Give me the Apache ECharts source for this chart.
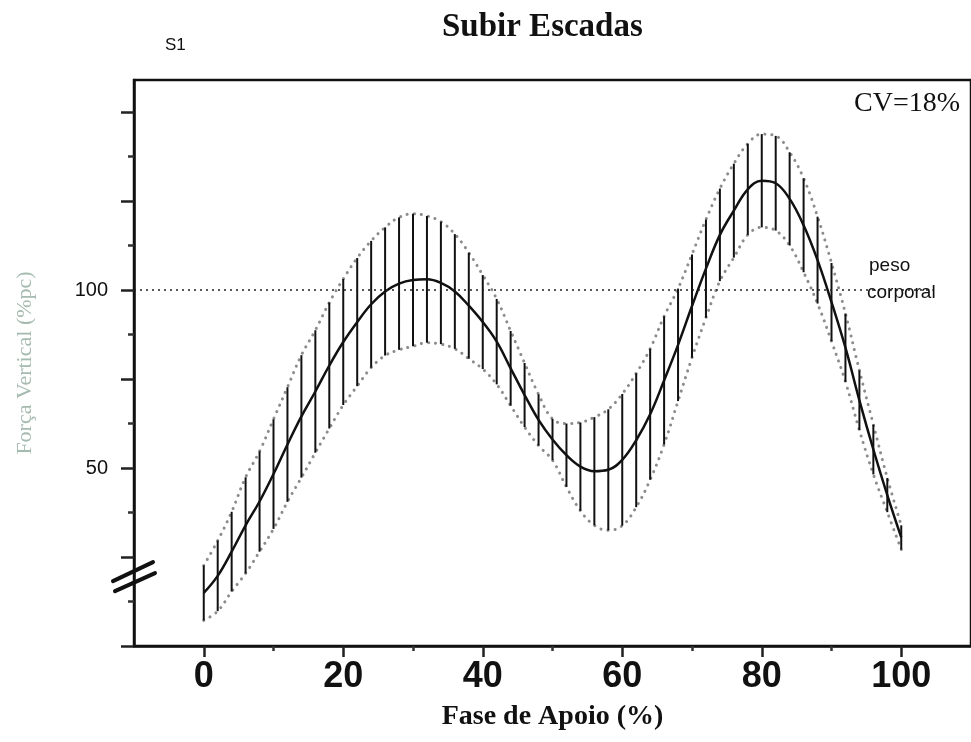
<!DOCTYPE html>
<html><head><meta charset="utf-8">
<script src="https://cdn.jsdelivr.net/npm/echarts@6/dist/echarts.min.js"></script>
<style>html,body{margin:0;padding:0;background:#fff}#c{width:971px;height:742px}</style>
</head><body><div id="c"></div>
<script>
// Stance phase (%)
const phase = [0,2,4,6,8,10,12,14,16,18,20,22,24,26,28,30,32,34,36,38,40,42,44,46,48,50,
  52,54,56,58,60,62,64,66,68,70,72,74,76,78,80,82,84,86,88,90,92,94,96,98,100];
// Mean vertical force (% body weight)
const meanForce = [14.9,19.7,26.5,33.9,40.6,48.3,56.6,64.5,71.5,78.8,85.4,91.0,96.0,99.6,101.8,102.8,103.0,102.0,99.6,95.6,91.0,
  85.5,78.0,70.5,63.5,58.0,53.6,50.4,49.1,49.5,52.3,57.8,65.1,74.6,84.6,95.5,106.0,115.5,122.3,128.3,130.7,
  130.0,125.6,118.2,108.4,96.6,83.8,69.0,55.2,42.4,30.5];
// Standard deviation (% body weight)
const sdForce = [7.7,9.9,11.2,13.5,14.1,15.4,16.1,17.2,17.2,17.7,17.7,18.0,17.8,18.0,18.6,18.6,17.8,17.2,16.1,14.9,13.2,
  12.0,10.5,9.0,7.2,5.8,8.9,12.4,15.2,17.0,18.5,18.8,18.4,18.0,15.8,14.5,13.8,13.0,13.2,12.8,13.1,
  13.3,13.1,13.2,12.2,11.0,9.6,8.4,7.0,4.8,3.4];
const xTickLabels = [0,20,40,60,80,100];
const xMinorTicks = [10,30,50,70,90];
const yTickLabels = [50,100];
const yMajorTicks = [0,25,50,75,100,125,150];
const yMinorTicks = [12.5,37.5,62.5,87.5,112.5,137.5];
const bodyWeightLevel = 100;
const cvText = 'CV=18%';

const chart = echarts.init(document.getElementById('c'), null, {renderer:'canvas'});
const upper = phase.map((x,i)=>[x, meanForce[i]+sdForce[i]]);
const lower = phase.map((x,i)=>[x, meanForce[i]-sdForce[i]]);
const bars = phase.map((x,i)=>[x, meanForce[i]-sdForce[i], meanForce[i]+sdForce[i]]);

const dotStyle = {color:'#8c8c8c', width:3, type:[0.1,7], cap:'round'};

chart.setOption({
  animation:false,
  backgroundColor:'#fff',
  title:[
    {text:'Subir Escadas', left:442, top:11, padding:0,
     textStyle:{fontFamily:'Liberation Serif', fontWeight:'bold', fontSize:33, color:'#111'}}
  ],
  grid:{left:134, top:80, width:840, bottom:96, show:true, borderColor:'#111', borderWidth:2.5, containLabel:false},
  xAxis:[
    {type:'value', min:-10, max:110, position:'bottom',
     name:'Fase de Apoio (%)', nameLocation:'middle', nameGap:57,
     nameTextStyle:{fontFamily:'Liberation Serif', fontWeight:'bold', fontSize:28, color:'#111'},
     axisLine:{show:true, onZero:false, lineStyle:{color:'#111', width:2.5}},
     axisTick:{show:true, customValues:xTickLabels, length:11, lineStyle:{color:'#222', width:2.5}},
     axisLabel:{customValues:xTickLabels, margin:13, fontFamily:'Liberation Sans', fontWeight:'bold', fontSize:36, color:'#111'},
     splitLine:{show:false}},
    {type:'value', min:-10, max:110, position:'bottom',
     axisLine:{show:false, onZero:false}, axisLabel:{show:false},
     axisTick:{show:true, customValues:xMinorTicks, length:5, lineStyle:{color:'#333', width:2.5}},
     splitLine:{show:false}}
  ],
  yAxis:[
    {type:'value', min:0, max:159, position:'left',
     name:'Força Vertical (%pc)', nameLocation:'middle', nameGap:98, nameRotate:90,
     nameTextStyle:{fontFamily:'Liberation Serif', fontSize:22, color:'#a6bbb0'},
     axisLine:{show:true, onZero:false, lineStyle:{color:'#111', width:2.5}},
     axisTick:{show:true, customValues:yMajorTicks, length:13, lineStyle:{color:'#222', width:2.5}},
     axisLabel:{customValues:yTickLabels, margin:26, fontFamily:'Liberation Sans', fontSize:20, color:'#111'},
     splitLine:{show:false}},
    {type:'value', min:0, max:159, position:'left',
     axisLine:{show:false, onZero:false}, axisLabel:{show:false},
     axisTick:{show:true, customValues:yMinorTicks, length:6, lineStyle:{color:'#333', width:2.5}},
     splitLine:{show:false}}
  ],
  series:[
    {type:'line', name:'upper', data:upper, smooth:0.4, showSymbol:false, lineStyle:dotStyle, z:2,
     markLine:{silent:true, symbol:['none','none'], label:{show:false},
       lineStyle:{color:'#222', width:1.5, type:[2,4]},
       data:[[{coord:[-10,bodyWeightLevel]},{coord:[104.5,bodyWeightLevel]}]]}},
    {type:'line', name:'lower', data:lower, smooth:0.4, showSymbol:false, lineStyle:dotStyle, z:2},
    {type:'custom', name:'sd', data:bars, encode:{x:0, y:[1,2]}, z:3,
     renderItem:function(params, api){
       const x = api.value(0);
       const p1 = api.coord([x, api.value(1)]);
       const p2 = api.coord([x, api.value(2)]);
       return {type:'line', shape:{x1:p1[0], y1:p1[1], x2:p2[0], y2:p2[1]},
               style:{stroke:'#111', lineWidth:2}};
     }},
    {type:'line', name:'mean', data:phase.map((x,i)=>[x, meanForce[i]]), smooth:0.4, showSymbol:false,
     lineStyle:{color:'#111', width:2.5}, z:4}
  ]
});

// decorations: axis break mark, texts
const ax = chart.convertToPixel({xAxisIndex:0}, -10);
const by = chart.convertToPixel({yAxisIndex:0}, 18.5);
chart.setOption({
  graphic:[
    {type:'line', shape:{x1:ax-21, y1:by+1, x2:ax+19, y2:by-18}, style:{stroke:'#111', lineWidth:4, lineCap:'round'}},
    {type:'line', shape:{x1:ax-19, y1:by+11, x2:ax+21, y2:by-7}, style:{stroke:'#111', lineWidth:4, lineCap:'round'}},
    {type:'text', left:165, top:37, style:{text:'S1', font:'17px "Liberation Sans"', fill:'#111'}},
    {type:'text', right:11, top:90, style:{text:cvText, font:'28px "Liberation Serif"', fill:'#111'}},
    {type:'text', left:869, top:256, style:{text:'peso', font:'19px "Liberation Sans"', fill:'#111'}},
    {type:'text', left:867, top:283, style:{text:'corporal', font:'19px "Liberation Sans"', fill:'#111'}}
  ]
});
</script>
</body></html>
